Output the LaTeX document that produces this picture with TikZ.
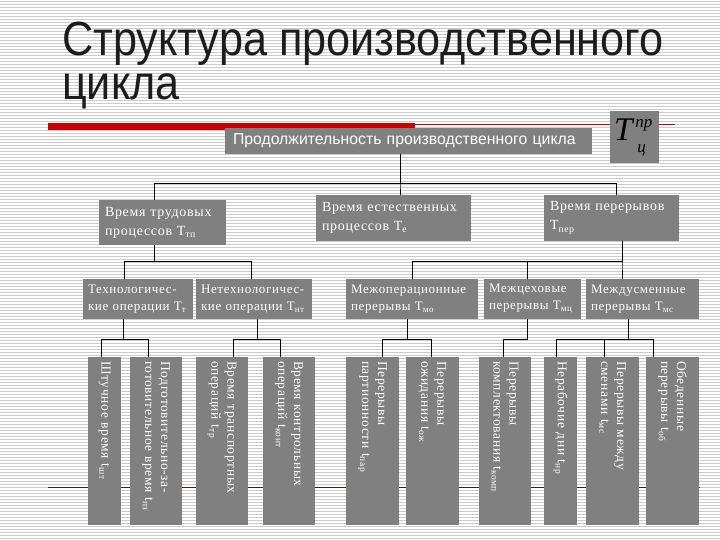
\documentclass[tikz,border=0pt]{standalone}
\usepackage{amsmath}
\usepackage{fontspec}
\setmainfont{Liberation Serif}
\setsansfont{Liberation Sans}
\newfontfamily\boxfont[LetterSpace=5]{Liberation Serif}
\usepackage{xcolor}
\usetikzlibrary{positioning}
\definecolor{boxgray}{RGB}{128,128,128}
\definecolor{titlegray}{RGB}{28,28,28}
\definecolor{barred}{RGB}{204,0,0}
\definecolor{darkline}{RGB}{90,20,20}

\begin{document}
\begin{tikzpicture}[
    x=1pt, y=-1pt,
    box/.style={rectangle, fill=boxgray, text=white, inner xsep=6pt, inner ysep=0pt, align=left, font=\boxfont\fontsize{14}{19}\selectfont},
    lowbox/.style={box, inner xsep=5pt, minimum height=40pt, font=\boxfont\fontsize{13}{17}\selectfont},
    vbox/.style={box, rotate=-90, inner xsep=4pt, text width=160pt, minimum height=#1, font=\boxfont\fontsize{13.5}{16}\selectfont},
    link/.style={draw=black, line width=1pt},
    stripe/.style={draw=black!20, line width=0.9pt}
]
    \useasboundingbox (0,0) rectangle (720,540);
    % Background
    \fill[white] (0,0) rectangle (720,540);
    \foreach \y in {1.5,4.5,...,540} \draw[stripe] (0,\y) -- (720,\y);
    \fill[barred] (48,123) rectangle (415,130);
    \draw[barred, line width=0.8pt] (415,124) -- (675,124);
    \draw[darkline, line width=0.8pt] (48,487) -- (700,487);

    % Title
    \node (title) [anchor=north west, align=left, inner sep=0pt, xscale=0.9, text=titlegray, font=\sffamily\fontsize{48}{44}\selectfont] at (62,22) {Структура производственного\\цикла};

    % Nodes
    \node (total) [box, text width=351pt, inner xsep=8pt, minimum height=26pt, font=\sffamily\fontsize{15.8}{17}\selectfont] at (408.5,141) {Продолжительность производственного цикла};
    \node (tpr) [box, text=black, inner sep=0pt, minimum width=49pt, minimum height=52pt, font=\fontsize{33}{33}\selectfont] at (634.5,137) {\raisebox{2pt}{\textit{T}\kern1pt\rlap{\raisebox{13pt}{\fontsize{17}{17}\selectfont\textit{пр}}}\kern2pt\raisebox{-12pt}{\fontsize{17}{17}\selectfont\textit{ц}}\hspace{9pt}}};

    % Second level
    \node (labor) [box, text width=115pt, minimum height=45pt] at (162.5,222.5) {Время трудовых\\процессов~Т\textsubscript{тп}};
    \node (natural) [box, text width=143pt, minimum height=46pt] at (393.5,218) {Время естественных\\процессов~Т\textsubscript{е}};
    \node (breaks) [box, text width=123pt, minimum height=46pt] at (611.5,218) {Время перерывов\\Т\textsubscript{пер}};

    % Third level
    \node (tech) [lowbox, text width=100pt] at (138,299) {Технологичес-\\кие~операции~Т\textsubscript{т}};
    \node (nontech) [lowbox, text width=106pt] at (254,299) {Нетехнологичес-\\кие~операции~Т\textsubscript{нт}};
    \node (interop) [lowbox, text width=122pt] at (412,299) {Межоперационные\\перерывы~Т\textsubscript{мо}};
    \node (intershop) [lowbox, text width=87pt] at (532.5,299) {Межцеховые\\перерывы~Т\textsubscript{мц}};
    \node (intershift) [lowbox, text width=103pt] at (642.5,299) {Междусменные\\перерывы~Т\textsubscript{мс}};

    % Vertical boxes
    \node (piece) [vbox=33pt] at (104.5,441) {Штучное время~t\textsubscript{шт}};
    \node (prep) [vbox=52pt] at (156,441) {Подготовительно-за-\\готовительное время~t\textsubscript{пз}};
    \node (transp) [vbox=52pt] at (222,441) {Время транспортных\\операций~t\textsubscript{тр}};
    \node (control) [vbox=52pt] at (289,441) {Время контрольных\\операций~t\textsubscript{конт}};
    \node (batch) [vbox=53pt] at (372.5,441) {Перерывы\\партионности~t\textsubscript{пар}};
    \node (wait) [vbox=53pt] at (432.5,441) {Перерывы\\ожидания~t\textsubscript{ож}};
    \node (kit) [vbox=52pt] at (505,441) {Перерывы\\комплектования~t\textsubscript{комп}};
    \node (idle) [vbox=33pt] at (560.5,441) {Нерабочие дни~t\textsubscript{нр}};
    \node (shiftbrk) [vbox=53pt] at (612.5,441) {Перерывы между\\сменами~t\textsubscript{мс}};
    \node (lunch) [vbox=53pt] at (672.5,441) {Обеденные\\перерывы~t\textsubscript{об}};

    % Connectors
    \draw [link] ([xshift=-8.5pt]total.south) -- ++(0,29) -| ([xshift=-8.5pt]labor.north);
    \draw [link] ([xshift=-8.5pt]total.south) -- ++(0,29) -| ([xshift=6.5pt]natural.north);
    \draw [link] ([xshift=-8.5pt]total.south) -- ++(0,29) -| ([xshift=4.5pt]breaks.north);

    \draw [link] ([xshift=-8.5pt]labor.south) -- ++(0,16) -| ([xshift=-14pt]tech.north);
    \draw [link] ([xshift=-8.5pt]labor.south) -- ++(0,16) -| ([xshift=-3pt]nontech.north);

    \draw [link] ([xshift=10.5pt]breaks.south) -- ++(0,20) -| (interop.north);
    \draw [link] ([xshift=10.5pt]breaks.south) -- ++(0,20) -| ([xshift=-5.5pt]intershop.north);
    \draw [link] ([xshift=10.5pt]breaks.south) -- ++(0,20) -| ([xshift=-20.5pt]intershift.north);

    \draw [link] ([xshift=-15pt]tech.south) -- ++(0,20) -| ([xshift=-3.5pt]piece.west);
    \draw [link] ([xshift=-15pt]tech.south) -- ++(0,20) -| ([xshift=-8pt]prep.west);
    \draw [link] ([xshift=3pt]nontech.south) -- ++(0,20) -| ([xshift=11pt]transp.west);
    \draw [link] ([xshift=3pt]nontech.south) -- ++(0,20) -| ([xshift=-9pt]control.west);
    \draw [link] ([xshift=-5pt]interop.south) -- ++(0,20) -| ([xshift=9.5pt]batch.west);
    \draw [link] ([xshift=-5pt]interop.south) -- ++(0,20) -| ([xshift=-1.5pt]wait.west);
    \draw [link] ([xshift=-5.5pt]intershop.south) -- ++(0,20) -| ([xshift=-2pt]kit.west);
    \draw [link] ([xshift=-14.5pt]intershift.south) -- ++(0,20) -| ([xshift=-4.5pt]idle.west);
    \draw [link] ([xshift=-14.5pt]intershift.south) -- ++(0,20) -| ([xshift=-8.5pt]shiftbrk.west);
    \draw [link] ([xshift=-14.5pt]intershift.south) -- ++(0,20) -| ([xshift=-19.5pt]lunch.west);
\end{tikzpicture}
\end{document}
